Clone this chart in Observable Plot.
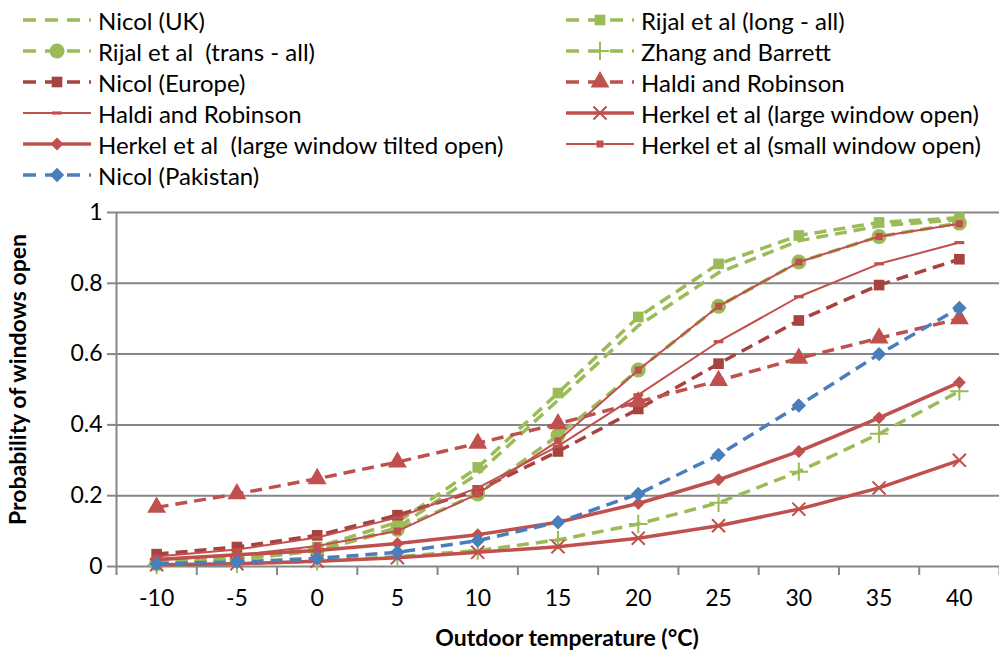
<!DOCTYPE html>
<html>
<head>
<meta charset="utf-8">
<script src="https://cdn.jsdelivr.net/npm/d3@7"></script>
<script src="https://cdn.jsdelivr.net/npm/@observablehq/plot@0.6"></script>
<style>
  body { margin: 0; background: #fff; font-family: Lato, "Open Sans", sans-serif; }
  #legend { position: relative; width: 999px; height: 190px; }
  .item { position: absolute; height: 28px; display: flex; align-items: center; font-size: 24px; color: #000; white-space: pre; }
  .item svg { margin-right: 6px; flex: none; }
  #chart svg { display: block; }
</style>
</head>
<body>
<div id="legend"></div>
<div id="chart"></div>
<script>
// Outdoor temperature categories (°C)
const temps = [-10, -5, 0, 5, 10, 15, 20, 25, 30, 35, 40];

// Probability of windows open, one array per model
const nicolUK       = [0.010, 0.020, 0.045, 0.110, 0.262, 0.470, 0.680, 0.830, 0.920, 0.962, 0.980];
const rijalLong     = [0.010, 0.025, 0.055, 0.125, 0.280, 0.490, 0.705, 0.855, 0.935, 0.972, 0.985];
const rijalTrans    = [0.008, 0.020, 0.045, 0.105, 0.205, 0.370, 0.555, 0.735, 0.860, 0.932, 0.970];
const zhangBarrett  = [0.004, 0.008, 0.015, 0.028, 0.045, 0.075, 0.120, 0.180, 0.268, 0.375, 0.495];
const nicolEurope   = [0.035, 0.055, 0.088, 0.145, 0.215, 0.325, 0.445, 0.573, 0.695, 0.795, 0.868];
const haldiDashed   = [0.167, 0.205, 0.248, 0.295, 0.348, 0.403, 0.465, 0.525, 0.588, 0.645, 0.700];
const haldiSolid    = [0.028, 0.048, 0.082, 0.138, 0.222, 0.340, 0.485, 0.635, 0.762, 0.855, 0.915];
const herkelLarge   = [0.005, 0.008, 0.015, 0.025, 0.040, 0.056, 0.080, 0.115, 0.162, 0.222, 0.300];
const herkelTilted  = [0.020, 0.033, 0.045, 0.065, 0.090, 0.125, 0.178, 0.245, 0.325, 0.420, 0.520];
const herkelSmall   = [0.018, 0.032, 0.058, 0.100, 0.205, 0.355, 0.555, 0.735, 0.860, 0.932, 0.968];
const nicolPakistan = [0.008, 0.013, 0.023, 0.040, 0.073, 0.125, 0.205, 0.315, 0.455, 0.600, 0.730];

// Y axis tick values
const yTicks = [0, 0.2, 0.4, 0.6, 0.8, 1];

// Short horizontal bar marker
const symbolDash = {
  draw(ctx, size) {
    const w = Math.sqrt(size) * 1.1;
    ctx.rect(-w / 2, -1.6, w, 3.2);
  }
};

const GREEN = "#9bbb59", RED = "#c0504d", DARKRED = "#a8423f", BLUE = "#4a7ebb";
const DASH = "12,7";

// Series in drawing order (later ones sit on top)
const series = [
  {name: "Nicol (UK)", values: nicolUK, color: GREEN, width: 3.5, dash: DASH, symbol: null, r: 0},
  {name: "Rijal et al (long - all)", values: rijalLong, color: GREEN, width: 3.5, dash: DASH, symbol: d3.symbolSquare, r: 6},
  {name: "Rijal et al  (trans - all)", values: rijalTrans, color: GREEN, width: 3.5, dash: DASH, symbol: d3.symbolCircle, r: 7.5},
  {name: "Zhang and Barrett", values: zhangBarrett, color: GREEN, width: 3.5, dash: DASH, symbol: d3.symbolPlus, r: 6, stroked: true},
  {name: "Nicol (Europe)", values: nicolEurope, color: DARKRED, width: 3.5, dash: DASH, symbol: d3.symbolSquare, r: 6},
  {name: "Haldi and Robinson", values: haldiDashed, color: RED, width: 3.5, dash: DASH, symbol: d3.symbolTriangle, r: 7},
  {name: "Haldi and Robinson", values: haldiSolid, color: RED, width: 2, dash: null, symbol: symbolDash, r: 5},
  {name: "Herkel et al (large window open)", values: herkelLarge, color: RED, width: 3.5, dash: null, symbol: d3.symbolTimes, r: 6, stroked: true},
  {name: "Herkel et al  (large window tilted open)", values: herkelTilted, color: RED, width: 3.5, dash: null, symbol: d3.symbolDiamond2, r: 5.8},
  {name: "Herkel et al (small window open)", values: herkelSmall, color: RED, width: 2, dash: null, symbol: d3.symbolSquare, r: 4},
  {name: "Nicol (Pakistan)", values: nicolPakistan, color: BLUE, width: 3.5, dash: DASH, symbol: d3.symbolDiamond2, r: 6.5}
];

// ---- Legend (two columns, row-major) ----
const legend = d3.select("#legend");
series.forEach((s, i) => {
  const col = i % 2, row = Math.floor(i / 2);
  const item = legend.append("div").attr("class", "item")
    .style("left", (col === 0 ? 22 : 565) + "px")
    .style("top", (6 + row * 31) + "px");
  const sw = item.append("svg").attr("width", 70).attr("height", 28);
  sw.append("line").attr("x1", 1).attr("x2", 69).attr("y1", 14).attr("y2", 14)
    .attr("stroke", s.color).attr("stroke-width", s.width)
    .attr("stroke-dasharray", s.dash ? "13,9" : null);
  if (s.symbol) {
    sw.append("path")
      .attr("transform", "translate(35,14)")
      .attr("d", d3.symbol(s.symbol, Math.PI * s.r * s.r)())
      .attr("fill", s.stroked ? "none" : s.color)
      .attr("stroke", s.stroked ? s.color : "none")
      .attr("stroke-width", s.stroked ? 2 : 0);
  }
  item.append("span").text(s.name);
});

// ---- Chart ----
const rows = series.flatMap((s, k) => temps.map((t, i) => ({k, t, p: s.values[i]})));
const boundaries = d3.range(-12.5, 43, 5);
const GRID = "#868686";

const marks = [
  Plot.ruleY(yTicks.filter(d => d > 0), {stroke: GRID, strokeWidth: 2}),
  Plot.axisY({ticks: yTicks, tickFormat: d => String(+d.toFixed(1)), tickSize: 9, tickPadding: 5, label: null,
              stroke: GRID, strokeWidth: 2, fill: "#000", fontSize: 23}),
  Plot.axisX({ticks: temps, tickSize: 0, tickPadding: 23, label: null, fill: "#000", fontSize: 23, tickFormat: d => String(d)}),
  Plot.axisX({ticks: boundaries, tickSize: 9, label: null, tickFormat: () => "", stroke: GRID, strokeWidth: 2}),
  Plot.ruleX([-12.5], {stroke: GRID, strokeWidth: 2}),
  Plot.ruleY([0], {stroke: GRID, strokeWidth: 2})
];

series.forEach((s, k) => {
  const d = rows.filter(r => r.k === k);
  marks.push(Plot.line(d, {x: "t", y: "p", stroke: s.color, strokeWidth: s.width,
    strokeDasharray: s.dash, strokeLinecap: "butt", strokeLinejoin: "round"}));
  if (s.symbol) {
    marks.push(Plot.dot(d, {x: "t", y: "p", symbol: () => s.symbol, r: s.r,
      fill: s.stroked ? "none" : s.color,
      stroke: s.stroked ? s.color : "none",
      strokeWidth: s.stroked ? 2 : 0}));
  }
});

marks.push(
  Plot.text(["Outdoor temperature (°C)"], {frameAnchor: "bottom", dx: 9, dy: 79,
    fontSize: 23, fontWeight: "bold", fill: "#000"}),
  Plot.text(["Probability of windows open"], {frameAnchor: "left", textAnchor: "middle", dx: -98, dy: -10,
    rotate: -90, fontSize: 23, fontWeight: "bold", fill: "#000"})
);

const chart = Plot.plot({
  width: 999,
  height: 473,
  marginTop: 22,
  marginBottom: 97,
  marginLeft: 116,
  marginRight: 0,
  style: {fontFamily: "Lato, 'Open Sans', sans-serif", background: "#fff", overflow: "visible"},
  x: {type: "linear", domain: [-12.5, 42.5], axis: null},
  y: {domain: [0, 1], axis: null},
  marks
});
document.getElementById("chart").append(chart);
</script>
</body>
</html>
